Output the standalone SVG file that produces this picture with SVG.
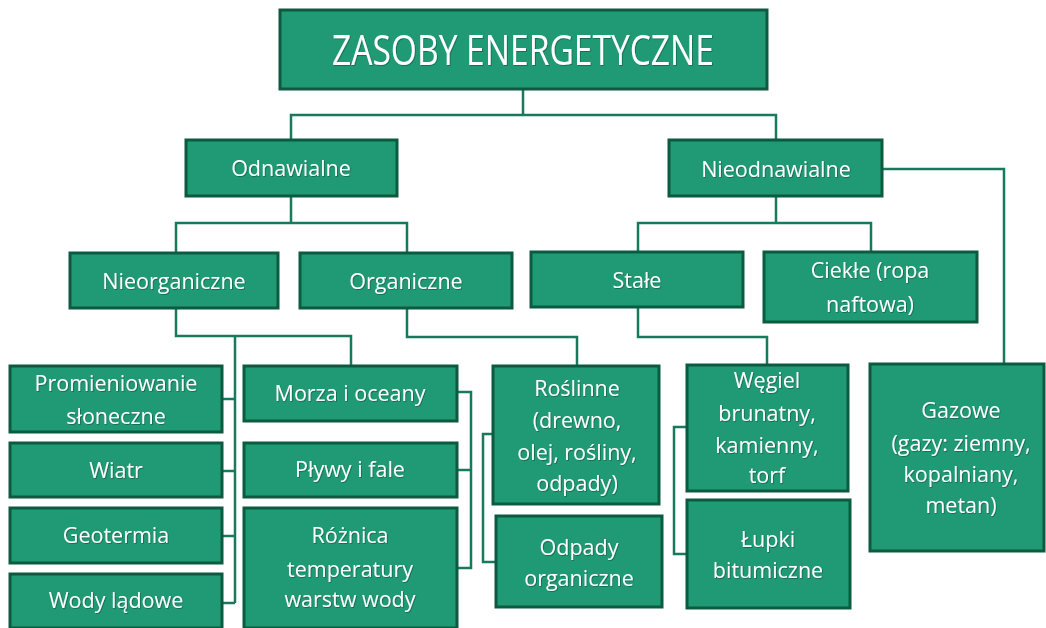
<svg xmlns="http://www.w3.org/2000/svg" width="1046" height="628" viewBox="0 0 1046 628">
<defs>
<filter id="sh" x="-10%" y="-30%" width="120%" height="160%"><feDropShadow dx="0.8" dy="0.8" stdDeviation="0.6" flood-color="#000000" flood-opacity="0.35"/></filter>
</defs>
<style>
.box{fill:#1f9a75;stroke:#0c5a40;stroke-width:3}
.t{font-family:"Open Sans","Noto Sans",sans-serif;font-size:21.5px;fill:#ffffff;text-anchor:middle;filter:url(#sh)}
.c{fill:none;stroke:#167a5b;stroke-width:2.5}
</style>
<rect width="1046" height="628" fill="#ffffff"/>
<g id="connectors">
<path class="c" d="M523 89V115M291 140V115H776V140"/>
<path class="c" d="M291 196V223M176 253V223H407V253"/>
<path class="c" d="M776 196V223M638 252V223H871V252"/>
<path class="c" d="M882 169H1004V364"/>
<path class="c" d="M176 308V336H351V366M235 336V603M222 399H235M222 471H235M222 536H235M222 603H235"/>
<path class="c" d="M457 392H471V568H457M457 470H471"/>
<path class="c" d="M407 308V337H577V366"/>
<path class="c" d="M493 434H483V562H496"/>
<path class="c" d="M638 307V337H767V365"/>
<path class="c" d="M687 427H674V554H687"/>
</g>
<g id="root"><rect class="box" x="280" y="10" width="487" height="79"/><text class="t" x="523" y="65" style="font-size:42px" textLength="382" lengthAdjust="spacingAndGlyphs">ZASOBY ENERGETYCZNE</text></g>
<g id="odnawialne"><rect class="box" x="186" y="140" width="211" height="56"/><text class="t" x="291" y="176">Odnawialne</text></g>
<g id="nieodnawialne"><rect class="box" x="669" y="140" width="213" height="56"/><text class="t" x="776" y="177">Nieodnawialne</text></g>
<g id="nieorganiczne"><rect class="box" x="70" y="253" width="208" height="55"/><text class="t" x="174" y="289">Nieorganiczne</text></g>
<g id="organiczne"><rect class="box" x="300" y="253" width="212" height="55"/><text class="t" x="406" y="289">Organiczne</text></g>
<g id="stale"><rect class="box" x="531" y="252" width="212" height="55"/><text class="t" x="637" y="288">Stałe</text></g>
<g id="ciekle"><rect class="box" x="764" y="252" width="213" height="70"/><text class="t" x="870" y="278">Ciekłe (ropa</text><text class="t" x="870" y="312">naftowa)</text></g>
<g id="gazowe"><rect class="box" x="870" y="364" width="174" height="187"/><text class="t" x="961" y="418">Gazowe</text><text class="t" x="961" y="451">(gazy: ziemny,</text><text class="t" x="961" y="482">kopalniany,</text><text class="t" x="961" y="513">metan)</text></g>
<g id="wegiel"><rect class="box" x="687" y="365" width="161" height="126"/><text class="t" x="767" y="388">Węgiel</text><text class="t" x="767" y="421">brunatny,</text><text class="t" x="767" y="453">kamienny,</text><text class="t" x="767" y="483">torf</text></g>
<g id="lupki"><rect class="box" x="687" y="500" width="163" height="108"/><text class="t" x="768" y="547">Łupki</text><text class="t" x="768" y="578">bitumiczne</text></g>
<g id="roslinne"><rect class="box" x="493" y="366" width="166" height="138"/><text class="t" x="577" y="396">Roślinne</text><text class="t" x="577" y="428">(drewno,</text><text class="t" x="577" y="460">olej, rośliny,</text><text class="t" x="577" y="491">odpady)</text></g>
<g id="odpady"><rect class="box" x="496" y="516" width="166" height="91"/><text class="t" x="579" y="555">Odpady</text><text class="t" x="579" y="586">organiczne</text></g>
<g id="promieniowanie"><rect class="box" x="10" y="366" width="212" height="66"/><text class="t" x="116" y="391">Promieniowanie</text><text class="t" x="116" y="424">słoneczne</text></g>
<g id="wiatr"><rect class="box" x="10" y="443" width="212" height="54"/><text class="t" x="116" y="478">Wiatr</text></g>
<g id="geotermia"><rect class="box" x="10" y="508" width="212" height="55"/><text class="t" x="116" y="543">Geotermia</text></g>
<g id="wody"><rect class="box" x="10" y="574" width="212" height="54"/><text class="t" x="116" y="608">Wody lądowe</text></g>
<g id="morza"><rect class="box" x="244" y="366" width="213" height="55"/><text class="t" x="350" y="401">Morza i oceany</text></g>
<g id="plywy"><rect class="box" x="244" y="443" width="213" height="54"/><text class="t" x="350" y="477">Pływy i fale</text></g>
<g id="roznica"><rect class="box" x="244" y="508" width="213" height="120"/><text class="t" x="350" y="543">Różnica</text><text class="t" x="350" y="577">temperatury</text><text class="t" x="350" y="607">warstw wody</text></g>
</svg>
